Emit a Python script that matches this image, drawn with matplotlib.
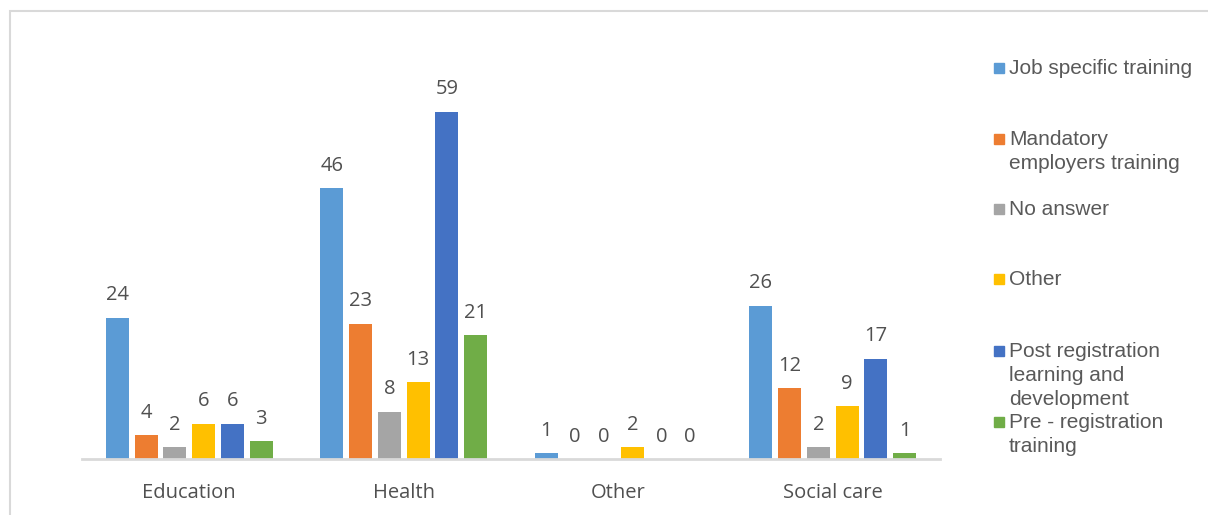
import numpy as np
import matplotlib
matplotlib.use("Agg")
import matplotlib.pyplot as plt
from matplotlib.patches import Rectangle

# sectors and training types
categories = ["Education", "Health", "Other", "Social care"]
series_names = [
    "Job specific training",
    "Mandatory\nemployers training",
    "No answer",
    "Other",
    "Post registration\nlearning and\ndevelopment",
    "Pre - registration\ntraining",
]
job_specific = [24, 46, 1, 26]
mandatory = [4, 23, 0, 12]
no_answer = [2, 8, 0, 2]
other = [6, 13, 2, 9]
post_reg = [6, 59, 0, 17]
pre_reg = [3, 21, 0, 1]
values = [job_specific, mandatory, no_answer, other, post_reg, pre_reg]
colors = ["#5B9BD5", "#ED7D31", "#A5A5A5", "#FFC000", "#4472C4", "#70AD47"]

W, H = 1208, 515
fig = plt.figure(figsize=(W / 100, H / 100), dpi=100)

# chart frame, runs off the right and bottom edges
fig.patches.append(Rectangle((10 / W, -0.1), 1.2, 1.1 - 11 / H, transform=fig.transFigure,
                             fill=False, edgecolor="#d9d9d9", lw=1.5))

ax = fig.add_axes([82 / W, (H - 459) / H, (940 - 82) / W, 412 / H])
x = np.arange(len(categories))
step = 0.134
width = 0.108
for i, (vals, col) in enumerate(zip(values, colors)):
    pos = x + (i - 2.5) * step
    bars = ax.bar(pos, vals, width, color=col, zorder=2)
    for b, v in zip(bars, vals):
        ax.annotate(str(v), (b.get_x() + b.get_width() / 2, v), xytext=(0, 9),
                    textcoords="offset points", ha="center", va="bottom",
                    fontsize=14.5, color="#505050", family="Open Sans")

ax.set_xlim(-0.5, 3.5)
ax.set_ylim(0, 70)
ax.set_xticks(x)
ax.set_xticklabels(categories, fontsize=14.5, color="#505050", family="Open Sans")
ax.tick_params(axis="x", length=0, pad=17)
ax.set_yticks([])
for s in ["top", "right", "left"]:
    ax.spines[s].set_visible(False)
ax.spines["bottom"].set_color("#d9d9d9")
ax.spines["bottom"].set_linewidth(2)

# legend drawn by hand so entries keep their wrapped layout
legend_y = [68, 139, 209, 279, 351, 422]
for name, col, ly in zip(series_names, colors, legend_y):
    fig.patches.append(Rectangle((994 / W, (H - ly - 5) / H), 10 / W, 10 / H,
                                 transform=fig.transFigure, color=col))
    fig.text(1009 / W, (H - ly + 9) / H, name, ha="left", va="top", fontsize=15,
             color="#595959", family="Liberation Sans", linespacing=1.32,
             transform=fig.transFigure)

fig.savefig("out.png", dpi=100)
